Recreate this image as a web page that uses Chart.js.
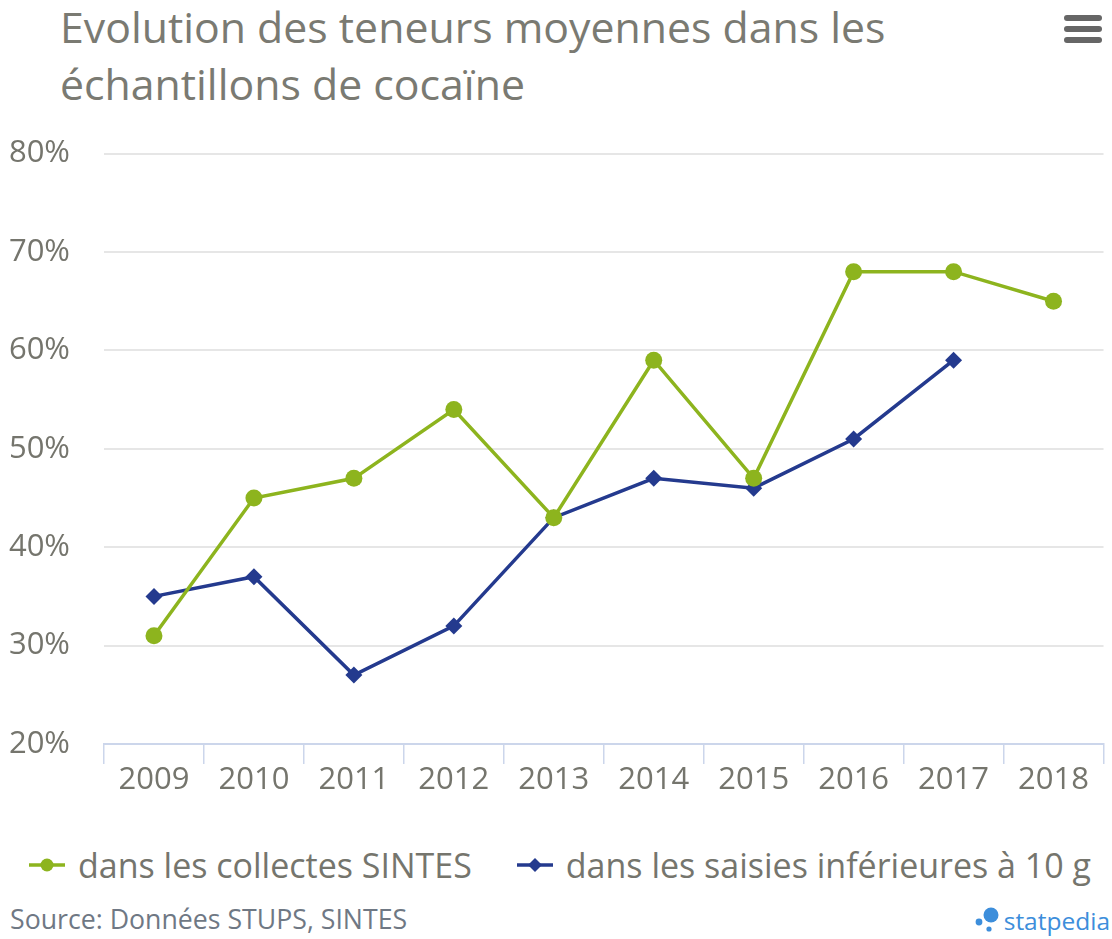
<!DOCTYPE html>
<html>
<head>
<meta charset="utf-8">
<script src="https://cdn.jsdelivr.net/npm/chart.js@4/dist/chart.umd.min.js"></script>
<style>
  html, body { margin: 0; padding: 0; background: #ffffff; }
  body { width: 1112px; height: 939px; position: relative; overflow: hidden; font-family: "Open Sans", sans-serif; }
  #title { position: absolute; left: 60px; top: -2px; font-size: 42.8px; line-height: 57px; color: #7a7a72; white-space: nowrap; }
  #menu { position: absolute; left: 1064px; top: 15px; width: 38px; }
  #menu div { height: 6px; background: #666666; border-radius: 3px; margin-bottom: 5px; }
  #wrap { position: absolute; left: 0; top: 101px; width: 1112px; height: 719px; }
  #legend { position: absolute; left: 4px; top: 845px; width: 1112px; height: 40px; display: flex; justify-content: center; align-items: center; font-size: 34px; line-height: 40px; color: #75756d; white-space: nowrap; }
  #legend .item { display: flex; align-items: center; }
  #legend .item + .item { margin-left: 45px; }
  #legend svg { margin-right: 13px; }
  #source { position: absolute; left: 10px; top: 903px; font-size: 26.7px; line-height: 32px; color: #6f7884; white-space: nowrap; }
  #brand { position: absolute; right: 2px; top: 906px; font-size: 24.5px; line-height: 30px; color: #3d8edb; white-space: nowrap; }
  #brand svg { vertical-align: -3px; margin-right: 2px; }
</style>
</head>
<body>
<div id="title">Evolution des teneurs moyennes dans les<br>échantillons de cocaïne</div>
<div id="menu"><div></div><div></div><div></div></div>
<div id="wrap"><canvas id="c"></canvas></div>
<div id="legend"></div>
<div id="source">Source: Données STUPS, SINTES</div>
<div id="brand"><svg width="28" height="26" viewBox="0 0 28 26"><circle cx="5" cy="15" r="3.4" fill="#3d8edb"/><circle cx="17" cy="8" r="7.5" fill="#3d8edb"/><circle cx="15" cy="22" r="2.6" fill="#3d8edb"/></svg>statpedia</div>
<script>
const years = ["2009","2010","2011","2012","2013","2014","2015","2016","2017","2018"];
const sintes = [31, 45, 47, 54, 43, 59, 47, 68, 68, 65];
const saisies = [35, 37, 27, 32, 43, 47, 46, 51, 59, null];
const seriesNames = ["dans les collectes SINTES", "dans les saisies inférieures à 10 g"];
const yTicks = [20, 30, 40, 50, 60, 70, 80];

const GREEN = "#8db41e";
const BLUE = "#243a8e";
const TEXT = "#75756d";

// HTML legend built from the series names / colours
const legendSvg = {
  circle: c => `<svg width="36" height="20" viewBox="0 0 36 20"><line x1="0" y1="10" x2="36" y2="10" stroke="${c}" stroke-width="3.5"/><circle cx="18" cy="10" r="6.5" fill="${c}"/></svg>`,
  diamond: c => `<svg width="36" height="20" viewBox="0 0 36 20"><line x1="0" y1="10" x2="36" y2="10" stroke="${c}" stroke-width="3.5"/><path d="M18 3 L25 10 L18 17 L11 10 Z" fill="${c}"/></svg>`
};
document.getElementById("legend").innerHTML =
  `<span class="item">${legendSvg.circle(GREEN)}<span>${seriesNames[0]}</span></span>` +
  `<span class="item">${legendSvg.diamond(BLUE)}<span>${seriesNames[1]}</span></span>`;

new Chart(document.getElementById("c"), {
  type: "line",
  data: {
    labels: years,
    datasets: [
      { label: seriesNames[0], data: sintes, borderColor: GREEN, backgroundColor: GREEN,
        borderWidth: 3.5, pointStyle: "circle", pointRadius: 8.5, pointHoverRadius: 8.5,
        pointBorderWidth: 0, tension: 0 },
      { label: seriesNames[1], data: saisies, borderColor: BLUE, backgroundColor: BLUE,
        borderWidth: 3.5, pointStyle: "rectRot", pointRadius: 8.5, pointHoverRadius: 8.5,
        pointBorderWidth: 0, tension: 0 }
    ]
  },
  options: {
    responsive: true,
    maintainAspectRatio: false,
    animation: false,
    events: [],
    layout: { padding: { top: 0, right: 4, left: 0, bottom: 0 } },
    plugins: {
      title: { display: false },
      tooltip: { enabled: false },
      legend: { display: false }
    },
    scales: {
      x: {
        type: "category",
        offset: true,
        grid: { display: true, offset: true, drawOnChartArea: false, drawTicks: true, tickLength: 20, color: "#ccd6eb", lineWidth: 1.5 },
        border: { display: true, color: "#ccd6eb", width: 2 },
        ticks: { color: TEXT, font: { family: "Open Sans", size: 31 }, padding: -2, maxRotation: 0, autoSkip: false },
        afterFit(scale) { scale.height = 76; }
      },
      y: {
        min: 20, max: 80,
        afterBuildTicks(scale) { scale.ticks = yTicks.map(v => ({ value: v })); },
        grid: { color: "#e6e6e6", lineWidth: 2, drawTicks: false },
        border: { display: false },
        ticks: { color: TEXT, font: { family: "Open Sans", size: 31 }, padding: 34, callback: v => v + "%" },
        afterFit(scale) { scale.width = 104; }
      }
    }
  }
});
</script>
</body>
</html>
